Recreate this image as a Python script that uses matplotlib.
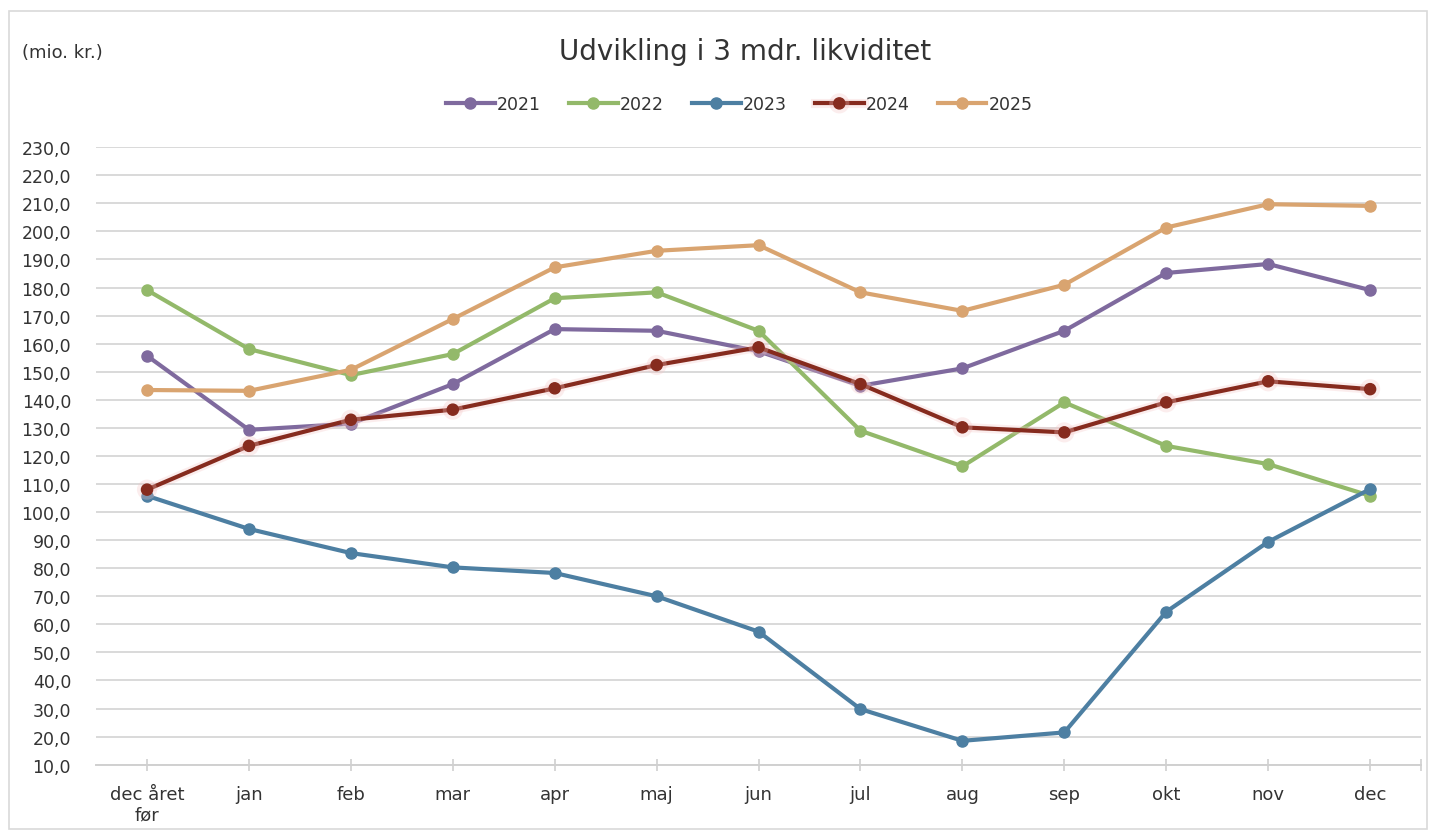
import matplotlib
matplotlib.use("Agg")
import matplotlib.pyplot as plt
import matplotlib.patheffects as pe
from matplotlib.patches import Rectangle

# categories on the x axis
months = ["dec året\nfør", "jan", "feb", "mar", "apr", "maj", "jun",
          "jul", "aug", "sep", "okt", "nov", "dec"]

# liquidity per year (mio. kr.)
y2021 = [155.7, 129.3, 131.5, 145.6, 165.2, 164.6, 157.3, 145.0, 151.2, 164.6, 185.2, 188.4, 179.1]
y2022 = [179.1, 158.1, 148.8, 156.3, 176.2, 178.3, 164.6, 129.0, 116.3, 139.1, 123.6, 117.1, 105.8]
y2023 = [105.8, 94.0, 85.4, 80.3, 78.3, 70.0, 57.4, 29.8, 18.5, 21.5, 64.5, 89.4, 108.2]
y2024 = [108.0, 123.6, 132.9, 136.5, 144.1, 152.4, 158.7, 145.6, 130.2, 128.4, 139.1, 146.6, 143.8]
y2025 = [143.5, 143.2, 150.7, 168.8, 187.2, 193.1, 195.1, 178.3, 171.7, 181.0, 201.4, 209.7, 209.1]

series = [("2021", y2021, "#7f6a9e"),
          ("2022", y2022, "#93b96a"),
          ("2023", y2023, "#4d7fa2"),
          ("2024", y2024, "#862b1e"),
          ("2025", y2025, "#d9a470")]

plt.rcParams["font.family"] = ["DejaVu Sans"]

fig = plt.figure(figsize=(14.36, 8.37), dpi=100)
ax = fig.add_axes([0.0669, 0.0852, 0.9227, 0.7377])

# light frame around the whole chart
fig.patches.append(Rectangle((0.006, 0.008), 0.988, 0.978, transform=fig.transFigure,
                             fill=False, edgecolor="#d9d9d9", linewidth=1.2))

x = list(range(len(months)))
for name, vals, col in series:
    effects = None
    if name == "2024":
        # soft reddish glow like the original
        effects = [pe.Stroke(linewidth=6.5, foreground="#f5c4c4", alpha=0.3), pe.Normal()]
    ax.plot(x, vals, color=col, linewidth=3.0, marker="o", markersize=8,
            label=name, path_effects=effects, zorder=3)

ax.set_xlim(-0.5, len(months) - 0.5)
ax.set_ylim(10, 230)
ax.set_yticks(range(10, 231, 10))
ax.set_yticklabels([f"{v:.1f}".replace(".", ",") for v in range(10, 231, 10)])
ax.set_xticks(x)
ax.set_xticklabels(months)
ax.set_xticks([len(months) - 0.5], minor=True)

ax.grid(axis="y", color="#d9d9d9", linewidth=1.4, zorder=0)
for s in ["top", "right", "left"]:
    ax.spines[s].set_visible(False)
ax.spines["bottom"].set_color("#d0d0d0")
ax.spines["bottom"].set_linewidth(1.4)

ax.tick_params(axis="y", length=0, pad=18, labelsize=12.5, labelcolor="#333333")
ax.tick_params(axis="x", which="both", direction="inout", length=9, width=1.2,
               color="#d0d0d0", pad=10, labelsize=13, labelcolor="#333333")

fig.text(0.015, 0.937, "(mio. kr.)", fontsize=13, color="#333333", va="center")
fig.text(0.519, 0.938, "Udvikling i 3 mdr. likviditet", fontsize=20, color="#333333",
         ha="center", va="center")

ax.legend(loc="center", bbox_to_anchor=(0.515, 0.874), bbox_transform=fig.transFigure,
          ncol=5, frameon=False, fontsize=12.5, handlelength=2.8, columnspacing=1.6,
          handletextpad=0.15, labelcolor="#333333")

fig.savefig("out.png", dpi=100)
